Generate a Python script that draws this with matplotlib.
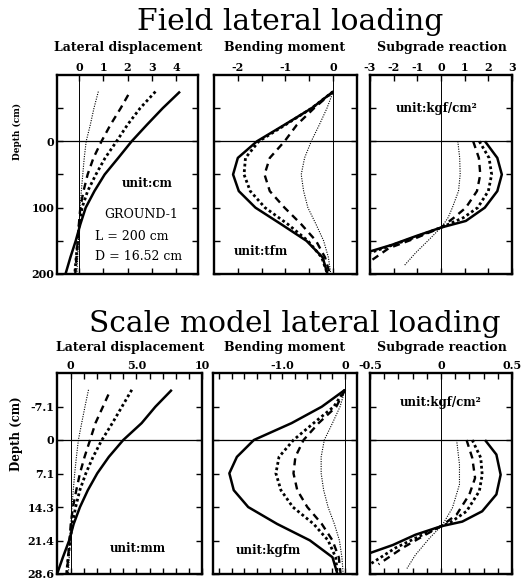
import matplotlib
matplotlib.use('Agg')
import matplotlib.pyplot as plt

# ---------------- data ----------------
# Field test (depth in cm)
field_disp_depth = [-75, -50, -25, 0, 25, 50, 75, 100, 125, 150, 175, 200]
field_disp_solid = [4.16, 3.45, 2.8, 2.17, 1.62, 1.06, 0.64, 0.28, 0.06, -0.13, -0.35, -0.55]
field_disp_hdot = [3.15, 2.52, 2.0, 1.55, 1.08, 0.7, 0.36, 0.13, 0.02, -0.05, -0.11, -0.17]
field_disp_dash_depth = [-70, -50, -25, 0, 25, 50, 75, 100, 125, 150, 175, 200]
field_disp_dash = [2.03, 1.72, 1.3, 0.93, 0.6, 0.36, 0.19, 0.06, 0.0, -0.05, -0.1, -0.15]
field_disp_tdot = [0.8, 0.62, 0.47, 0.3, 0.22, 0.16, 0.1, 0.05, 0.01, -0.02, -0.05, -0.08]

field_mom_depth = [-75, -50, -25, 0, 25, 50, 75, 100, 125, 150, 175, 200]
field_mom_solid = [0, -0.45, -1.02, -1.6, -2.0, -2.1, -1.98, -1.63, -1.09, -0.56, -0.22, -0.12]
field_mom_hdot = [0, -0.45, -1.0, -1.56, -1.84, -1.87, -1.74, -1.43, -0.95, -0.53, -0.24, -0.12]
field_mom_dash = [0, -0.4, -0.76, -1.02, -1.33, -1.44, -1.33, -1.02, -0.67, -0.36, -0.17, -0.07]
field_mom_tdot = [0, -0.13, -0.29, -0.46, -0.6, -0.67, -0.62, -0.53, -0.36, -0.2, -0.1, -0.05]

field_sub_solid_depth = [0, 25, 50, 75, 100, 120, 130, 143, 156, 166]
field_sub_solid = [1.86, 2.38, 2.57, 2.38, 1.85, 1.05, 0.0, -1.07, -2.07, -3.0]
field_sub_hdot_depth = [0, 25, 50, 75, 100, 115, 130, 148, 168]
field_sub_hdot = [1.62, 2.03, 2.14, 2.0, 1.55, 0.95, 0.0, -1.36, -3.0]
field_sub_dash_depth = [0, 25, 50, 75, 100, 115, 130, 146, 161, 181]
field_sub_dash = [1.36, 1.6, 1.66, 1.52, 1.05, 0.55, 0.0, -1.07, -2.2, -3.0]
field_sub_tdot_depth = [0, 25, 50, 75, 100, 115, 128, 148, 168, 188]
field_sub_tdot = [0.71, 0.79, 0.81, 0.74, 0.48, 0.3, 0.05, -0.5, -1.07, -1.57]

# Scale model (depth in cm)
model_disp_depth = [-10.7, -7.1, -3.6, 0, 3.6, 7.1, 10.7, 14.3, 17.9, 21.4, 25.0, 28.6]
model_disp_solid = [7.7, 6.45, 5.4, 4.0, 2.9, 2.02, 1.3, 0.7, 0.22, -0.12, -0.6, -1.05]
model_disp_hdot = [4.65, 3.9, 3.17, 2.37, 1.7, 1.15, 0.69, 0.37, 0.12, -0.05, -0.2, -0.32]
model_disp_dash_depth = [-9.7, -7.1, -3.6, 0, 3.6, 7.1, 10.7, 14.3, 17.9, 21.4, 25.0, 28.6]
model_disp_dash = [2.87, 2.45, 1.88, 1.47, 1.05, 0.7, 0.42, 0.17, 0.0, -0.1, -0.2, -0.3]
model_disp_tdot = [1.35, 1.08, 0.83, 0.58, 0.43, 0.3, 0.19, 0.09, 0.0, -0.06, -0.12, -0.18]

model_mom_depth = [-10.7, -7.1, -3.6, 0, 3.6, 7.1, 10.7, 14.3, 17.9, 21.4, 25.0, 28.6]
model_mom_solid = [0, -0.37, -0.85, -1.45, -1.72, -1.84, -1.77, -1.54, -1.08, -0.56, -0.2, -0.12]
model_mom_hdot = [0, -0.18, -0.5, -0.82, -1.05, -1.1, -1.02, -0.83, -0.5, -0.27, -0.15, -0.12]
model_mom_dash = [0, -0.14, -0.42, -0.66, -0.79, -0.82, -0.76, -0.6, -0.37, -0.2, -0.1, -0.07]
model_mom_tdot = [0, -0.08, -0.2, -0.33, -0.38, -0.38, -0.34, -0.27, -0.17, -0.09, -0.05, -0.03]

model_sub_solid_depth = [0, 3.1, 7.4, 11.6, 15.2, 17.4, 18.4, 20.2, 22.4, 24.1]
model_sub_solid = [0.31, 0.39, 0.42, 0.39, 0.29, 0.15, 0.0, -0.18, -0.34, -0.5]
model_sub_hdot_depth = [0, 3.8, 7.4, 10.9, 15.2, 17.7, 18.4, 20.2, 23.0, 26.3]
model_sub_hdot = [0.22, 0.28, 0.29, 0.27, 0.18, 0.06, 0.0, -0.13, -0.32, -0.49]
model_sub_dash_depth = [0, 3.8, 8.1, 11.6, 15.9, 18.4, 20.2, 23.0, 26.5]
model_sub_dash = [0.18, 0.22, 0.24, 0.2, 0.11, 0.0, -0.11, -0.27, -0.44]
model_sub_tdot_depth = [0, 5.2, 9.5, 14.5, 18.1, 20.9, 24.5, 27.4]
model_sub_tdot = [0.11, 0.13, 0.13, 0.08, 0.01, -0.08, -0.18, -0.24]

field_depth_ticks = [0, 100, 200]
field_depth_labels = ['0', '100', '200']
model_depth_ticks = [-50 / 7, 0, 50 / 7, 100 / 7, 150 / 7, 200 / 7]
model_depth_labels = ['-7.1', '0', '7.1', '14.3', '21.4', '28.6']

# ---------------- figure ----------------
W, H = 521, 579
fig = plt.figure(figsize=(W / 100, H / 100), dpi=100)
SERIF = 'DejaVu Serif'
TICKFONT = dict(family=SERIF, weight='bold', size=8)
SUBFONT = dict(family=SERIF, weight='bold', size=9)

STY = {
    'solid': dict(ls='-', lw=1.8),
    'hdot': dict(ls=(0, (1, 1.0)), lw=2.0),
    'dash': dict(ls=(0, (3.0, 2.2)), lw=1.7),
    'tdot': dict(ls=(0, (1, 1.2)), lw=0.8),
}


def add_ax(x0, y0, x1, y1):
    return fig.add_axes([x0 / W, 1 - y1 / H, (x1 - x0) / W, (y1 - y0) / H])


def style_ax(ax, xlim, ylim, xmaj, xlab, xmin, ymaj, ylab, ymin, show_y):
    ax.set_xlim(xlim)
    ax.set_ylim(ylim)
    ax.set_xticks(xmaj)
    ax.set_xticklabels(xlab, fontdict=TICKFONT)
    ax.set_xticks(xmin, minor=True)
    ax.set_yticks(ymaj)
    ax.set_yticklabels(ylab if show_y else [], fontdict=TICKFONT)
    ax.set_yticks(ymin, minor=True)
    ax.tick_params(axis='x', which='both', direction='in', top=True, bottom=True,
                   labeltop=True, labelbottom=False, length=4, width=1, pad=1.5)
    ax.tick_params(axis='y', which='both', direction='in', left=True, right=True,
                   labelleft=show_y, labelright=False, length=4, width=1, pad=2)
    for sp in ax.spines.values():
        sp.set_linewidth(1.7)
    ax.axhline(0, color='k', lw=0.9, zorder=1)
    ax.axvline(0, color='k', lw=0.7, zorder=1)


def draw(ax, depth, vals, key):
    ax.plot(vals, depth, color='k', solid_capstyle='butt', **STY[key])


# ---- top row (field) ----
ty0, ty1 = 75, 274
fylim = (200, -100)
fymin = [-50, 50, 150]

a1 = add_ax(57, ty0, 198, ty1)
style_ax(a1, (-0.9, 4.9), fylim, [0, 1, 2, 3, 4], ['0', '1', '2', '3', '4'], [],
         field_depth_ticks, field_depth_labels, fymin, True)
draw(a1, field_disp_depth, field_disp_solid, 'solid')
draw(a1, field_disp_depth, field_disp_hdot, 'hdot')
draw(a1, field_disp_dash_depth, field_disp_dash, 'dash')
draw(a1, field_disp_depth, field_disp_tdot, 'tdot')
a1.text(2.8, 64, 'unit:cm', ha='center', va='center', family=SERIF, weight='bold', size=8.5)
a1.text(2.55, 110, 'GROUND-1', ha='center', va='center', family=SERIF, size=9)
a1.text(0.65, 144, 'L = 200 cm', ha='left', va='center', family=SERIF, size=9)
a1.text(0.65, 174, 'D = 16.52 cm', ha='left', va='center', family=SERIF, size=9)

a2 = add_ax(214, ty0, 357, ty1)
style_ax(a2, (-2.5, 0.5), fylim, [-2, -1, 0], ['-2', '-1', '0'], [-1.5, -0.5],
         field_depth_ticks, field_depth_labels, fymin, False)
draw(a2, field_mom_depth, field_mom_solid, 'solid')
draw(a2, field_mom_depth, field_mom_hdot, 'hdot')
draw(a2, field_mom_depth, field_mom_dash, 'dash')
draw(a2, field_mom_depth, field_mom_tdot, 'tdot')
a2.text(-1.52, 166, 'unit:tfm', ha='center', va='center', family=SERIF, weight='bold', size=8.5)

a3 = add_ax(370, ty0, 512, ty1)
style_ax(a3, (-3, 3), fylim, [-3, -2, -1, 0, 1, 2, 3], ['-3', '-2', '-1', '0', '1', '2', '3'], [],
         field_depth_ticks, field_depth_labels, fymin, False)
draw(a3, field_sub_solid_depth, field_sub_solid, 'solid')
draw(a3, field_sub_hdot_depth, field_sub_hdot, 'hdot')
draw(a3, field_sub_dash_depth, field_sub_dash, 'dash')
draw(a3, field_sub_tdot_depth, field_sub_tdot, 'tdot')
a3.text(-0.2, -50, 'unit:kgf/cm²', ha='center', va='center', family=SERIF, weight='bold', size=8.5)

# ---- bottom row (scale model) ----
by0, by1 = 373, 574
mylim = (200 / 7, -100 / 7)
mymin = []

b1 = add_ax(57, by0, 202, by1)
style_ax(b1, (-1.05, 10.0), mylim, [0, 5, 10], ['0', '5.0', '10'], list(range(1, 10)),
         model_depth_ticks, model_depth_labels, mymin, True)
draw(b1, model_disp_depth, model_disp_solid, 'solid')
draw(b1, model_disp_depth, model_disp_hdot, 'hdot')
draw(b1, model_disp_dash_depth, model_disp_dash, 'dash')
draw(b1, model_disp_depth, model_disp_tdot, 'tdot')
b1.text(5.1, 23.2, 'unit:mm', ha='center', va='center', family=SERIF, weight='bold', size=8.5)

b2 = add_ax(213, by0, 357, by1)
style_ax(b2, (-2.1, 0.19), mylim, [-1.0, 0], ['-1.0', '0'],
         [-2.0, -1.8, -1.6, -1.4, -1.2, -0.8, -0.6, -0.4, -0.2],
         model_depth_ticks, model_depth_labels, mymin, False)
draw(b2, model_mom_depth, model_mom_solid, 'solid')
draw(b2, model_mom_depth, model_mom_hdot, 'hdot')
draw(b2, model_mom_depth, model_mom_dash, 'dash')
draw(b2, model_mom_depth, model_mom_tdot, 'tdot')
b2.text(-1.22, 23.6, 'unit:kgfm', ha='center', va='center', family=SERIF, weight='bold', size=8.5)

b3 = add_ax(370, by0, 512, by1)
style_ax(b3, (-0.5, 0.5), mylim, [-0.5, 0, 0.5], ['-0.5', '0', '0.5'],
         [-0.4, -0.3, -0.2, -0.1, 0.1, 0.2, 0.3, 0.4],
         model_depth_ticks, model_depth_labels, mymin, False)
draw(b3, model_sub_solid_depth, model_sub_solid, 'solid')
draw(b3, model_sub_hdot_depth, model_sub_hdot, 'hdot')
draw(b3, model_sub_dash_depth, model_sub_dash, 'dash')
draw(b3, model_sub_tdot_depth, model_sub_tdot, 'tdot')
b3.text(0.0, -7.9, 'unit:kgf/cm²', ha='center', va='center', family=SERIF, weight='bold', size=8.5)

# ---- titles & labels ----
fig.text(290 / W, 1 - 22 / H, 'Field lateral loading', ha='center', va='center',
         family=SERIF, size=21.5)
fig.text(295 / W, 1 - 324 / H, 'Scale model lateral loading', ha='center', va='center',
         family=SERIF, size=21.3)
for (xc, yc, s) in [(128, 47, 'Lateral displacement'), (285, 47, 'Bending moment'),
                    (442, 47, 'Subgrade reaction'),
                    (130, 347, 'Lateral displacement'), (285, 347, 'Bending moment'),
                    (442, 347, 'Subgrade reaction')]:
    fig.text(xc / W, 1 - yc / H, s, ha='center', va='center', **SUBFONT)
fig.text(17 / W, 1 - 131 / H, 'Depth (cm)', rotation=90, ha='center', va='center',
         family=SERIF, weight='bold', size=6.5)
fig.text(17 / W, 1 - 434 / H, 'Depth (cm)', rotation=90, ha='center', va='center',
         family=SERIF, weight='bold', size=8.5)

fig.savefig('out.png', dpi=100)
